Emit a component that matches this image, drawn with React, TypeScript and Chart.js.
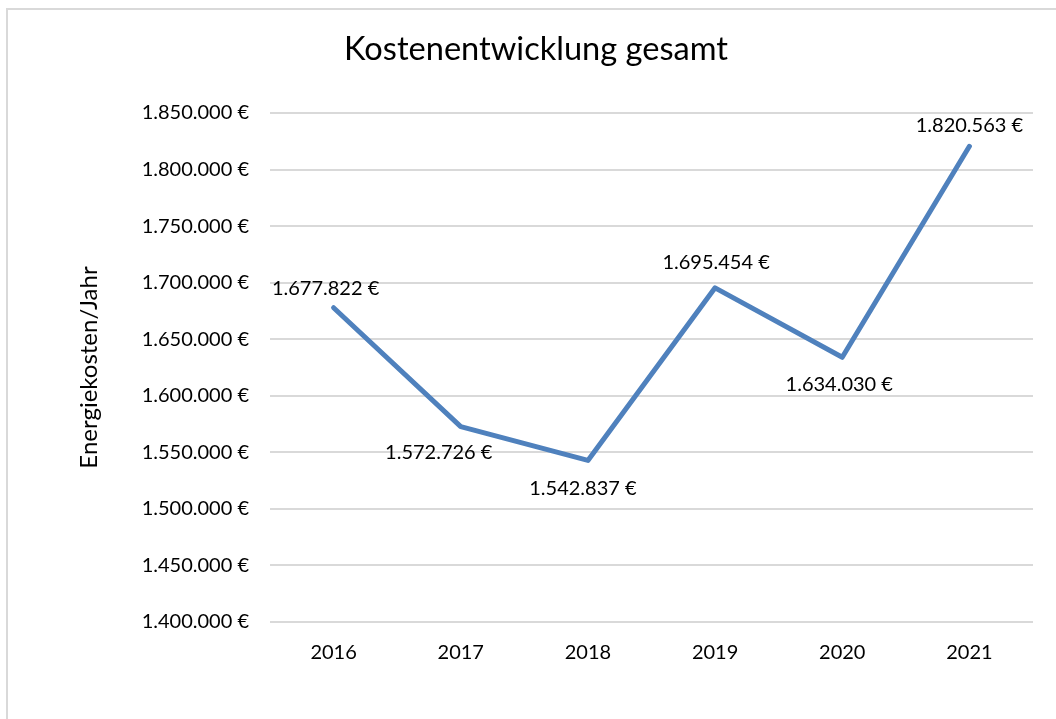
import React, { useEffect, useRef } from "react";
import { Chart, registerables } from "chart.js";

Chart.register(...registerables);

const categories = ["2016", "2017", "2018", "2019", "2020", "2021"];
const costValues = [1677822, 1572726, 1542837, 1695454, 1634030, 1820563];
const yTickValues = [1400000, 1450000, 1500000, 1550000, 1600000, 1650000, 1700000, 1750000, 1800000, 1850000];
const chartTitle = "Kostenentwicklung gesamt";
const yAxisTitle = "Energiekosten/Jahr";

// label offsets (px) relative to each point — styling only
const labelOffsets: [number, number][] = [
  [-8, -19],
  [-22, 26],
  [-5, 28],
  [1, -25],
  [-3, 27],
  [0, -21],
];

const FONT = "Lato, 'Open Sans', sans-serif";
const TEXT_COLOR = "#000000";

const fmt = (v: number) => {
  const s = Math.round(v).toString().replace(/\B(?=(\d{3})+(?!\d))/g, ".");
  return s + " €";
};

const labelPlugin = {
  id: "pointLabels",
  afterDatasetsDraw(chart: any) {
    const ctx = chart.ctx;
    const meta = chart.getDatasetMeta(0);
    ctx.save();
    ctx.font = `20px ${FONT}`;
    ctx.fillStyle = TEXT_COLOR;
    ctx.textAlign = "center";
    ctx.textBaseline = "middle";
    meta.data.forEach((pt: any, i: number) => {
      const [dx, dy] = labelOffsets[i];
      ctx.fillText(fmt(costValues[i]), pt.x + dx, pt.y + dy);
    });
    ctx.restore();
  },
};

export default function App() {
  const ref = useRef<HTMLCanvasElement | null>(null);
  useEffect(() => {
    document.body.style.margin = "0";
    document.body.style.overflow = "hidden";
    const chart = new Chart(ref.current!, {
      type: "line",
      data: {
        labels: categories,
        datasets: [
          {
            data: costValues,
            borderColor: "#4f81bd",
            borderWidth: 5,
            pointRadius: 0,
            pointHoverRadius: 0,
            tension: 0,
            borderCapStyle: "round",
            borderJoinStyle: "round",
          },
        ],
      },
      options: {
        animation: false,
        responsive: false,
        maintainAspectRatio: false,
        layout: { padding: { left: 39, right: 23, top: 0, bottom: 0 } },
        plugins: {
          legend: { display: false },
          tooltip: { enabled: false },
          title: {
            display: true,
            text: chartTitle,
            color: TEXT_COLOR,
            font: { family: FONT, size: 32.6, weight: "normal", lineHeight: 1.2 },
            padding: { top: 30.4, bottom: 43.5 },
          },
        },
        scales: {
          x: {
            offset: true,
            grid: { display: false, drawTicks: false },
            border: { display: false },
            ticks: { color: TEXT_COLOR, font: { family: FONT, size: 20 }, padding: 19, maxRotation: 0 },
            afterFit: (s: any) => {
              s.height = 97;
            },
          },
          y: {
            min: 1400000,
            max: 1850000,
            afterBuildTicks: (s: any) => {
              s.ticks = yTickValues.map((v) => ({ value: v }));
            },
            grid: { color: "#d9d9d9", lineWidth: 2, drawTicks: false },
            border: { display: false },
            ticks: {
              color: TEXT_COLOR,
              font: { family: FONT, size: 20 },
              padding: 21,
              callback: (v: any) => fmt(Number(v)),
            },
            title: {
              display: true,
              text: yAxisTitle,
              color: TEXT_COLOR,
              font: { family: FONT, size: 24, lineHeight: 1.2 },
              padding: { top: 35.6 },
            },
            afterFit: (s: any) => {
              s.width = 231;
            },
          },
        },
      },
      plugins: [labelPlugin],
    } as any);
    return () => chart.destroy();
  }, []);
  return (
    <div style={{ position: "absolute", left: 0, top: 0, width: 1056, height: 719, background: "#fff" }}>
      <div
        style={{
          position: "absolute",
          left: 6,
          top: 8,
          width: 1050,
          height: 711,
          boxSizing: "border-box",
          borderLeft: "2px solid #d9d9d9",
          borderTop: "2px solid #d9d9d9",
        }}
      />
      <canvas ref={ref} width={1056} height={719} style={{ position: "absolute", left: 0, top: 0 }} />
    </div>
  );
}
